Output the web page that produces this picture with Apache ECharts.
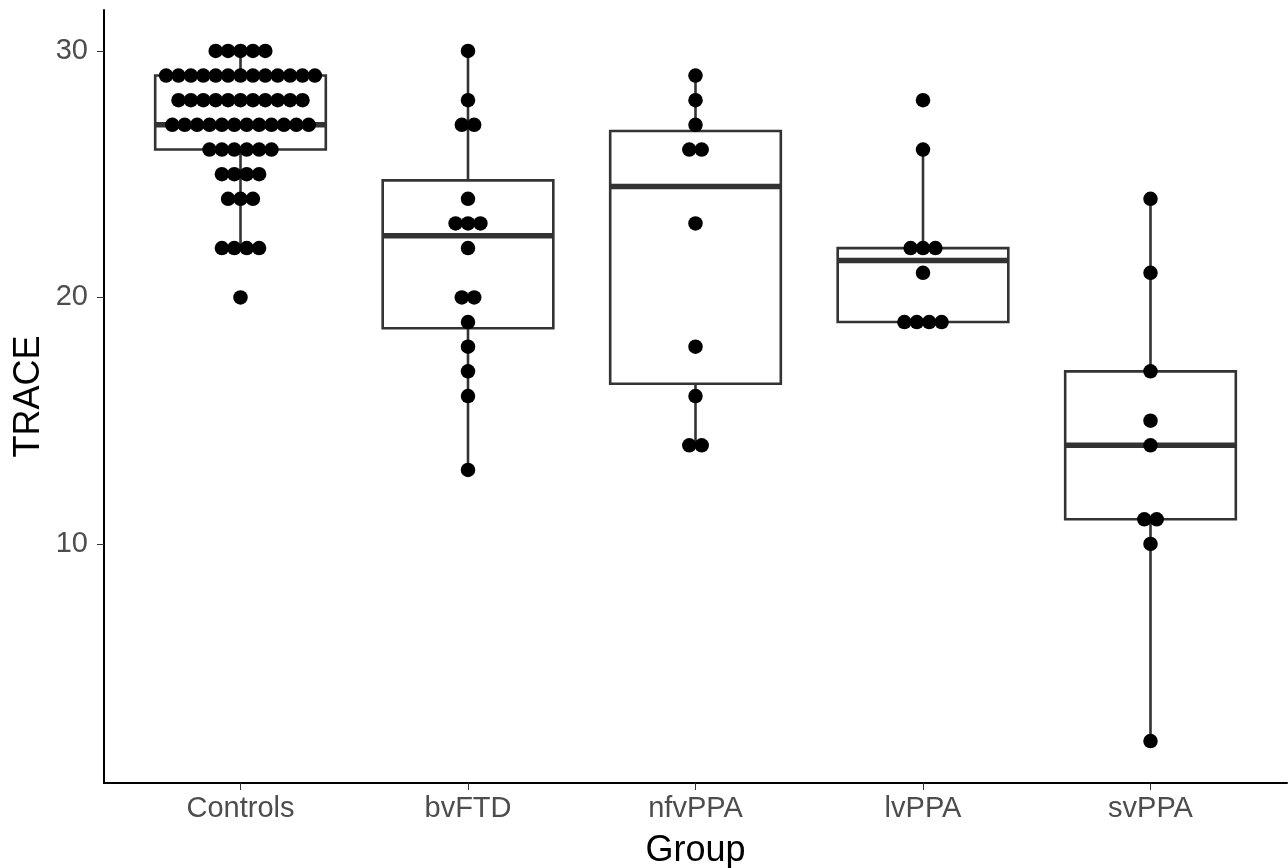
<!DOCTYPE html>
<html>
<head>
<meta charset="utf-8">
<script src="https://cdn.jsdelivr.net/npm/echarts@6/dist/echarts.min.js"></script>
<style>
html,body{margin:0;padding:0;background:#fff;}
#chart{width:1288px;height:868px;}
</style>
</head>
<body>
<div id="chart"></div>
<script>
const categories = ['Controls', 'bvFTD', 'nfvPPA', 'lvPPA', 'svPPA'];
const yTicks = [10, 20, 30];
const controls = [
  30, 30, 30, 30, 30,
  29, 29, 29, 29, 29, 29, 29, 29, 29, 29, 29, 29, 29,
  28, 28, 28, 28, 28, 28, 28, 28, 28, 28, 28,
  27, 27, 27, 27, 27, 27, 27, 27, 27, 27, 27, 27,
  26, 26, 26, 26, 26, 26,
  25, 25, 25, 25,
  24, 24, 24,
  22, 22, 22, 22,
  20
];
const bvFTD = [30, 28, 27, 27, 24, 23, 23, 23, 22, 20, 20, 19, 18, 17, 16, 13];
const nfvPPA = [29, 28, 27, 26, 26, 23, 18, 16, 14, 14];
const lvPPA = [28, 26, 22, 22, 22, 21, 19, 19, 19, 19];
const svPPA = [24, 21, 17, 15, 14, 11, 11, 10, 2];
const groups = [controls, bvFTD, nfvPPA, lvPPA, svPPA];

function quantile(sorted, p) {
  const pos = (sorted.length - 1) * p;
  const lo = Math.floor(pos), hi = Math.ceil(pos);
  return sorted[lo] + (sorted[hi] - sorted[lo]) * (pos - lo);
}
function boxStats(vals) {
  const s = vals.slice().sort((a, b) => a - b);
  const q1 = quantile(s, 0.25), med = quantile(s, 0.5), q3 = quantile(s, 0.75);
  const iqr = q3 - q1;
  const lf = q1 - 1.5 * iqr, uf = q3 + 1.5 * iqr;
  const inside = s.filter(v => v >= lf && v <= uf);
  return [inside[0], q1, med, q3, inside[inside.length - 1]];
}
const boxData = groups.map((g, i) => [i].concat(boxStats(g)));

const DOT_STEP = 12.4;
const dotData = [];
groups.forEach((g, i) => {
  const counts = {};
  g.forEach(v => { counts[v] = (counts[v] || 0) + 1; });
  Object.keys(counts).forEach(k => {
    const n = counts[k];
    for (let j = 0; j < n; j++) {
      dotData.push({ value: [i, Number(k)], symbolOffset: [(j - (n - 1) / 2) * DOT_STEP, 0] });
    }
  });
});

const HALF = 0.375;
const LINE = '#333333';
const FONT = 'Liberation Sans, Arial, sans-serif';
const chart = echarts.init(document.getElementById('chart'));
chart.setOption({
  animation: false,
  backgroundColor: '#ffffff',
  textStyle: { fontFamily: FONT },
  grid: { left: 104, right: 1, top: 10, bottom: 85, containLabel: false, outerBoundsMode: 'none' },
  xAxis: {
    type: 'value', min: -0.6, max: 4.6,
    name: 'Group', nameLocation: 'middle', nameGap: 50, nameMoveOverlap: false,
    nameTextStyle: { fontSize: 36, color: '#000', fontFamily: FONT },
    axisLine: { show: true, onZero: false, lineStyle: { color: '#000', width: 2 } },
    axisTick: { show: true, customValues: [0, 1, 2, 3, 4], length: 7, lineStyle: { color: LINE, width: 1 } },
    axisLabel: {
      customValues: [0, 1, 2, 3, 4], margin: 11, fontSize: 29, color: '#4D4D4D', fontFamily: FONT,
      formatter: v => categories[Math.round(v)]
    },
    splitLine: { show: false }
  },
  yAxis: {
    type: 'value', min: 0.3, max: 31.66,
    name: 'TRACE', nameLocation: 'middle', nameGap: 57, nameRotate: 90, nameMoveOverlap: false,
    nameTextStyle: { fontSize: 36, color: '#000', fontFamily: FONT },
    axisLine: { show: true, onZero: false, lineStyle: { color: '#000', width: 2 } },
    axisTick: { show: true, customValues: yTicks, length: 7, lineStyle: { color: LINE, width: 1 } },
    axisLabel: { customValues: yTicks, margin: 16, fontSize: 29, color: '#4D4D4D', fontFamily: FONT },
    splitLine: { show: false }
  },
  series: [
    {
      type: 'custom',
      data: boxData,
      z: 2,
      renderItem: function (params, api) {
        const i = api.value(0);
        const lo = api.value(1), q1 = api.value(2), med = api.value(3), q3 = api.value(4), hi = api.value(5);
        const pL = api.coord([i - HALF, q3]);
        const pR = api.coord([i + HALF, q1]);
        const pC = api.coord([i, q3]);
        const pHi = api.coord([i, hi]);
        const pQ1 = api.coord([i, q1]);
        const pLo = api.coord([i, lo]);
        const pM = api.coord([i, med]);
        const st = { stroke: LINE, lineWidth: 2.6, fill: null };
        return {
          type: 'group',
          children: [
            { type: 'line', shape: { x1: pC[0], y1: pC[1], x2: pHi[0], y2: pHi[1] }, style: st },
            { type: 'line', shape: { x1: pQ1[0], y1: pQ1[1], x2: pLo[0], y2: pLo[1] }, style: st },
            { type: 'rect', shape: { x: pL[0], y: pL[1], width: pR[0] - pL[0], height: pR[1] - pL[1] }, style: { stroke: LINE, lineWidth: 2.6, fill: '#fff' } },
            { type: 'line', shape: { x1: pL[0], y1: pM[1], x2: pR[0], y2: pM[1] }, style: { stroke: LINE, lineWidth: 5.5 } }
          ]
        };
      }
    },
    {
      type: 'scatter',
      data: dotData,
      z: 5,
      symbol: 'circle',
      symbolSize: 14.5,
      itemStyle: { color: '#000', opacity: 1 }
    }
  ]
});
</script>
</body>
</html>
